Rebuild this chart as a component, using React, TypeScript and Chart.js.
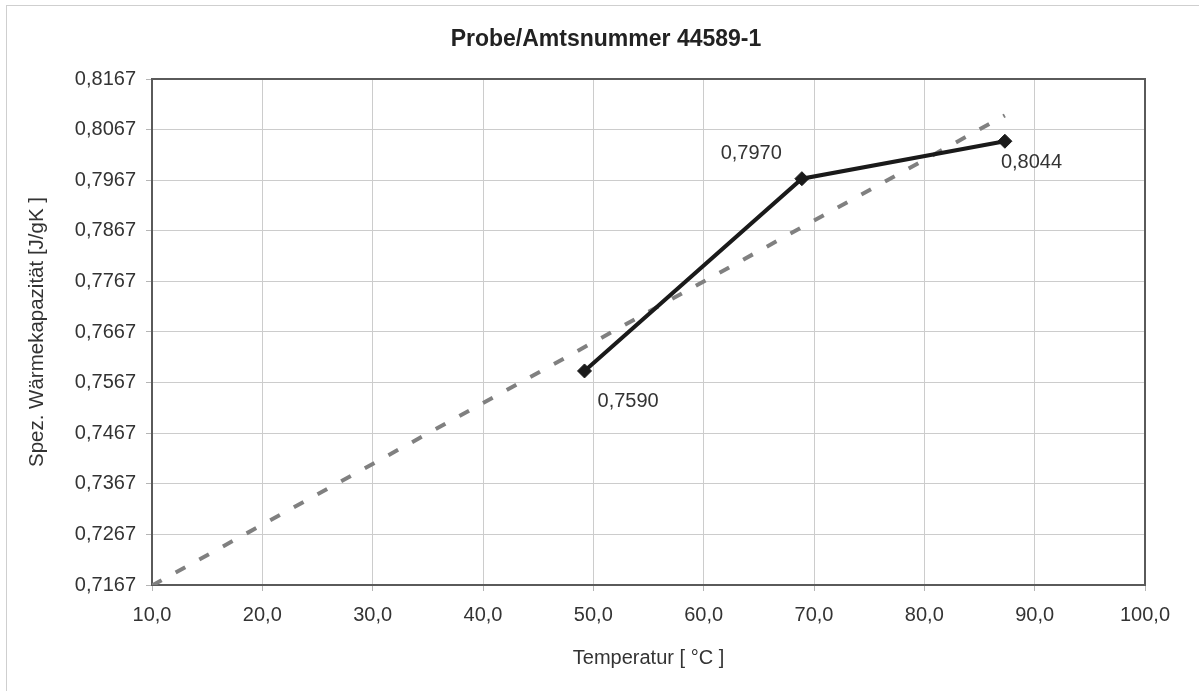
import React, { useEffect, useRef } from "react";
import { Chart, registerables } from "chart.js";

Chart.register(...registerables);

// ---- data ----
const temperatures = [49.2, 68.9, 87.3];
const heatCapacity = [0.759, 0.797, 0.8044];
const pointLabels = ["0,7590", "0,7970", "0,8044"];
const trendTemperatures = [10.0, 87.3];
const trendValues = [0.7166, 0.8095];
const yTicks = [0.7167, 0.7267, 0.7367, 0.7467, 0.7567, 0.7667, 0.7767, 0.7867, 0.7967, 0.8067, 0.8167];
const xTicks = [10, 20, 30, 40, 50, 60, 70, 80, 90, 100];

const titleText = "Probe/Amtsnummer 44589-1";
const xTitle = "Temperatur [ °C ]";
const yTitle = "Spez. Wärmekapazität [J/gK ]";

const FONT = "'Liberation Sans', Arial, Helvetica, sans-serif";

// label placement relative to each point (style, not data)
const labelPlacement = [
  { dx: 13, dy: 31, align: "left" as CanvasTextAlign },
  { dx: -20, dy: -25, align: "right" as CanvasTextAlign },
  { dx: -4, dy: 21, align: "left" as CanvasTextAlign },
];

const framePlugin = {
  id: "frame",
  beforeDatasetsDraw(chart: any) {
    const { ctx, chartArea } = chart;
    ctx.save();
    ctx.strokeStyle = "#5a5a5a";
    ctx.lineWidth = 2;
    ctx.strokeRect(chartArea.left, chartArea.top, chartArea.right - chartArea.left, chartArea.bottom - chartArea.top);
    ctx.restore();
  },
};

const pointLabelPlugin = {
  id: "pointLabels",
  afterDatasetsDraw(chart: any) {
    const { ctx } = chart;
    const meta = chart.getDatasetMeta(0);
    ctx.save();
    ctx.font = `20px ${FONT}`;
    ctx.fillStyle = "#333333";
    ctx.textBaseline = "middle";
    meta.data.forEach((pt: any, i: number) => {
      const p = labelPlacement[i];
      ctx.textAlign = p.align;
      ctx.fillText(pointLabels[i], pt.x + p.dx, pt.y + p.dy);
    });
    ctx.restore();
  },
};

export default function App() {
  const ref = useRef<HTMLCanvasElement | null>(null);

  useEffect(() => {
    if (!ref.current) return;
    const chart = new Chart(ref.current, {
      type: "scatter",
      data: {
        datasets: [
          {
            label: "Messwerte",
            data: temperatures.map((t, i) => ({ x: t, y: heatCapacity[i] })),
            showLine: true,
            borderColor: "#1a1a1a",
            backgroundColor: "#1a1a1a",
            borderWidth: 4,
            pointStyle: "rectRot",
            pointRadius: 7,
            pointBorderWidth: 1,
            pointBackgroundColor: "#1a1a1a",
            pointBorderColor: "#1a1a1a",
          },
          {
            label: "Trend",
            data: trendTemperatures.map((t, i) => ({ x: t, y: trendValues[i] })),
            showLine: true,
            borderColor: "#808080",
            borderWidth: 4,
            borderDash: [11, 16],
            pointRadius: 0,
          },
        ],
      },
      options: {
        responsive: false,
        animation: false,
        layout: { padding: { left: 0, right: 0, top: 0, bottom: 0 } },
        plugins: {
          legend: { display: false },
          tooltip: { enabled: false },
          title: {
            display: true,
            text: titleText,
            color: "#222222",
            font: { family: FONT, size: 23, weight: "bold" },
            padding: { top: 26, bottom: 25.4 },
          },
        },
        scales: {
          x: {
            type: "linear",
            min: 10,
            max: 100,
            afterBuildTicks: (scale: any) => {
              scale.ticks = xTicks.map((v) => ({ value: v }));
            },
            afterFit: (scale: any) => {
              scale.height = 106;
            },
            ticks: {
              color: "#333333",
              font: { family: FONT, size: 20 },
              padding: 12,
              maxRotation: 0,
              callback: (v: any) => Number(v).toFixed(1).replace(".", ","),
            },
            grid: { color: "#cccccc", lineWidth: 1, tickLength: 6, tickColor: "#b5b5b5" },
            border: { display: true, color: "#5a5a5a", width: 2 },
            title: {
              display: true,
              text: xTitle,
              color: "#333333",
              font: { family: FONT, size: 20 },
              padding: { top: 0, bottom: 21 },
            },
          },
          y: {
            type: "linear",
            min: 0.7167,
            max: 0.8167,
            afterBuildTicks: (scale: any) => {
              scale.ticks = yTicks.map((v) => ({ value: v }));
            },
            afterFit: (scale: any) => {
              scale.width = 152;
            },
            ticks: {
              color: "#333333",
              font: { family: FONT, size: 20 },
              padding: 10,
              callback: (v: any) => Number(v).toFixed(4).replace(".", ","),
            },
            grid: { color: "#cccccc", lineWidth: 1, tickLength: 6, tickColor: "#b5b5b5" },
            border: { display: true, color: "#5a5a5a", width: 2 },
            title: {
              display: true,
              text: yTitle,
              color: "#333333",
              font: { family: FONT, size: 20.5 },
              padding: { top: 25, bottom: 0 },
            },
          },
          yRightSpace: {
            type: "linear",
            position: "right",
            display: true,
            min: 0,
            max: 1,
            afterFit: (scale: any) => {
              scale.width = 67;
            },
            ticks: { display: false },
            grid: { display: false, drawTicks: false },
            border: { display: false },
          },
        },
      },
      plugins: [framePlugin, pointLabelPlugin],
    } as any);
    return () => chart.destroy();
  }, []);

  return (
    <div
      style={{
        position: "fixed",
        left: 0,
        top: 0,
        width: 1199,
        height: 691,
        overflow: "hidden",
        background: "#ffffff",
      }}
    >
      <div
        style={{
          position: "absolute",
          left: 6,
          top: 5,
          width: 1200,
          height: 700,
          border: "1px solid #cfcfcf",
          boxSizing: "border-box",
        }}
      />
      <canvas ref={ref} width={1212} height={691} style={{ position: "absolute", left: 0, top: 0 }} />
    </div>
  );
}
